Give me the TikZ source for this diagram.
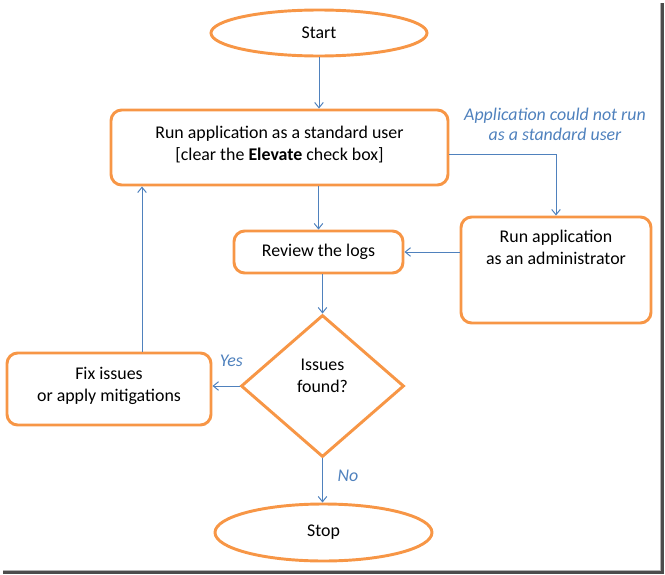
\documentclass[tikz,border=0pt]{standalone}
\usepackage{fontspec}
\setmainfont{Carlito}
\usepackage{xcolor}
\usepackage{tikz}
\usetikzlibrary{positioning,shapes,arrows.meta,shapes.geometric,calc}
\definecolor{flowOrange}{RGB}{247,150,70}
\definecolor{flowBlue}{RGB}{79,129,189}

\begin{document}
\begin{tikzpicture}[
    x=0.75pt, y=-0.75pt,
    font=\fontsize{13.4pt}{16.5pt}\selectfont,
    box/.style={draw=flowOrange, rectangle, rounded corners=8pt, line width=2.2pt, align=center, inner sep=0pt},
    term/.style={draw=flowOrange, ellipse, line width=2.2pt, align=center, inner sep=0pt},
    decision/.style={draw=flowOrange, diamond, line width=2.2pt, align=center, inner sep=0pt, shape aspect=1},
    line/.style={draw=flowBlue, line width=0.75pt, -{Straight Barb[length=4pt,width=6.5pt]}},
    tag/.style={text=flowBlue, font=\fontsize{13.4pt}{15pt}\selectfont\itshape, align=center, inner sep=0pt}
]
    \useasboundingbox (0,0) rectangle (665,575);

    % Nodes
    \node[term, minimum width=162pt, minimum height=34.5pt] (start) at (319,33) {Start};
    \node[box, minimum width=252.75pt, minimum height=56.25pt, text depth=6.5pt] (run) at (279.5,147.5)
        {Run application as a standard user\\\relax [clear the \textbf{Elevate} check box]};
    \node[tag] (note) at (555,124) {Application could not run\\as a standard user};
    \node[box, minimum width=142.5pt, minimum height=79.5pt, text depth=34pt] (admin) at (556,270)
        {Run application\\as an administrator};
    \node[box, minimum width=126.75pt, minimum height=31.5pt] (review) at (318.5,252) {Review the logs};
    \node[decision, minimum width=122.25pt, minimum height=106.5pt, text depth=15pt] (decide) at (322.5,386)
        {Issues\\found?};
    \node[box, minimum width=153pt, minimum height=54pt, text depth=7pt] (fix) at (109,389)
        {Fix issues\\or apply mitigations};
    \node[term, minimum width=162.75pt, minimum height=42.75pt] (stop) at (323.5,532.5) {Stop};

    % Connections
    \draw[line] (start.south) -- (start.south |- run.north);
    \draw[line] ([yshift=-5.6pt]run.east) -| (admin.north);
    \draw[line] (run.south -| review.north) -- (review.north);
    \draw[line] (admin.west |- review.east) -- (review.east);
    \draw[line] (decide.north |- review.south) -- (decide.north);
    \draw[line] (decide.west) -- node[tag, above=14pt, pos=0.3] {Yes} (decide.west -| fix.east);
    \draw[line] ([xshift=24.75pt]fix.north) -- ([xshift=24.75pt]fix.north |- run.south);
    \draw[line] (decide.south) -- node[tag, right=11pt, pos=0.4] {No} (decide.south |- stop.north);

    % Frame shadow
    \draw[black!70, line width=2pt] (3,572.5) -- (662.5,572.5) -- (662.5,3);
    \draw[black!30, line width=0.75pt] (3,570.5) -- (660.5,570.5) -- (660.5,3);
\end{tikzpicture}
\end{document}
